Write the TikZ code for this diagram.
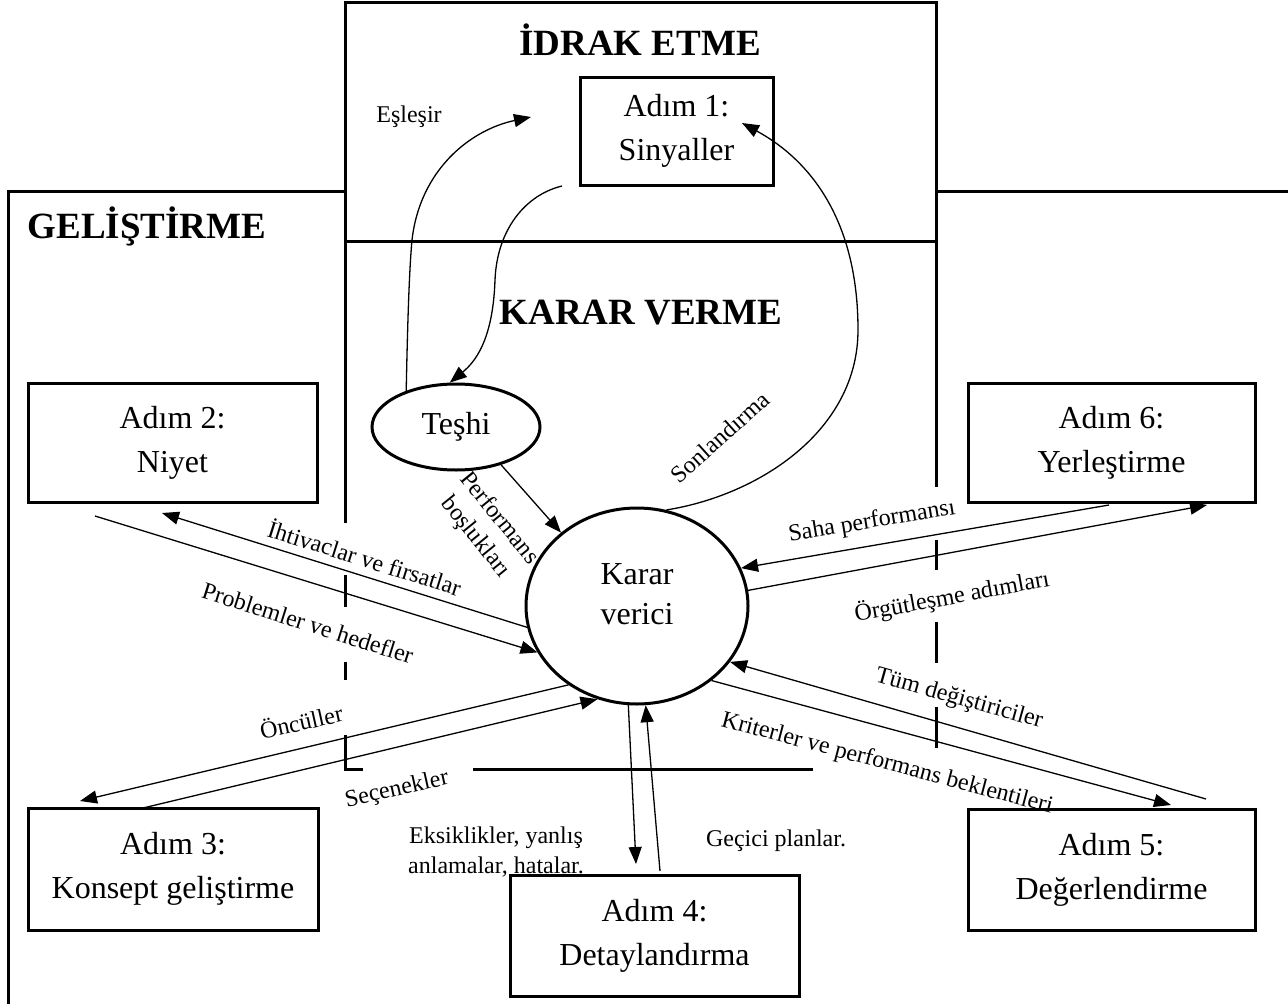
\documentclass[tikz,border=0pt]{standalone}
\usepackage{fontspec}
\setmainfont{Liberation Serif}
\usetikzlibrary{arrows.meta,shapes.geometric}
\begin{document}
\begin{tikzpicture}[x=1pt,y=-1pt,
  frameline/.style={line width=3pt},
  stepbox/.style={draw,line width=3pt,inner sep=0pt,align=center,font=\fontsize{32}{44}\selectfont},
  oval/.style={draw,ellipse,line width=3pt,inner sep=0pt},
  bigtext/.style={inner sep=0pt,align=center,font=\fontsize{32}{40}\selectfont},
  titletext/.style={inner sep=0pt,font=\fontsize{37}{44}\selectfont\bfseries},
  lab/.style={inner sep=0pt,align=center,font=\fontsize{24}{30}\selectfont},
  conn/.style={line width=1.3pt,-{Triangle[length=17pt,width=13pt]}}
]
\useasboundingbox (0,0) rectangle (1288,1004);

% frames
\draw[frameline] (345,2) rectangle (936,241);
\draw[frameline] (8,1004) -- (8,191) -- (345,191);
\draw[frameline] (936,191) -- (1288,191);
% KARAR VERME region (broken lines)
\draw[frameline] (345,241) -- (345,523);
\draw[frameline] (345,575) -- (345,607);
\draw[frameline] (345,662) -- (345,680);
\draw[frameline] (345,735) -- (345,769) -- (363,769);
\draw[frameline] (473,769) -- (813,769);
\draw[frameline] (936,241) -- (936,487);
\draw[frameline] (936,540) -- (936,570);
\draw[frameline] (936,622) -- (936,663);
\draw[frameline] (936,707) -- (936,748);

% titles
\node[titletext] (tidrak) at (640,40) {İDRAK ETME};
\node[titletext] (tgel) at (147,226) {GELİŞTİRME};
\node[titletext] (tkarar) at (641,313) {KARAR VERME};

% step boxes
\node[stepbox,minimum width=193pt,minimum height=108pt] (a1) at (676.5,131) {Adım 1:\\Sinyaller};
\node[stepbox,minimum width=289pt,minimum height=119pt] (a2) at (172.5,442.5) {Adım 2:\\Niyet};
\node[stepbox,minimum width=287pt,minimum height=119pt] (a6) at (1111.5,442.5) {Adım 6:\\Yerleştirme};
\node[stepbox,minimum width=290pt,minimum height=122pt] (a3) at (173,869) {Adım 3:\\Konsept geliştirme};
\node[stepbox,minimum width=287pt,minimum height=121pt] (a5) at (1111.5,869.5) {Adım 5:\\Değerlendirme};
\node[stepbox,minimum width=289pt,minimum height=121pt] (a4) at (654.5,935.5) {Adım 4:\\Detaylandırma};

% ovals
\node[oval,minimum width=168pt,minimum height=86pt,font=\fontsize{32}{40}\selectfont] (teshi) at (456,427) {Teşhi};
\node[oval,minimum width=222pt,minimum height=196pt] (kv) at (637,606) {};
\node[bigtext] (kvtext) at (637,594) {Karar\\verici};

% free ends
\coordinate (match) at (531,117);
\coordinate (sigout) at (562,186);
\coordinate (sigin) at (742,123);
\coordinate (a2in) at (162,513);
\coordinate (a2out) at (95,516);
\coordinate (a3in) at (80,801);
\coordinate (a3out) at (143,808);
\coordinate (a4in) at (636,864);
\coordinate (a4out) at (660,871);
\coordinate (a6in) at (1207,505);
\coordinate (a6out) at (1109,505);
\coordinate (a5in) at (1171,805);
\coordinate (a5out) at (1206,799);

% curved connectors
\draw[conn] (teshi.144) .. controls (408,300) and (410,262) .. (412,240)
  .. controls (420,170) and (470,130) .. (match);
\draw[conn] (sigout) .. controls (525,195) and (497,230) .. (495,280)
  .. controls (493,340) and (475,362) .. (teshi.98);
\draw[conn] (kv.73) .. controls (760,495) and (858,430) .. (858,330)
  .. controls (858,220) and (810,160) .. (sigin);
\draw[conn] (teshi.-40) -- (kv.136.5);

% straight connectors
\draw[conn] (kv.191.5) -- (a2in);
\draw[conn] (a2out) -- (kv.205.2);
\draw[conn] (kv.229.8) -- (a3in);
\draw[conn] (a3out) -- (kv.247.4);
\draw[conn] (kv.265) -- (a4in);
\draw[conn] (a4out) -- (kv.275);
\draw[conn] (a6out) -- (kv.20.3);
\draw[conn] (kv.8.7) -- (a6in);
\draw[conn] (a5out) -- (kv.-31.6);
\draw[conn] (kv.-45.7) -- (a5in);

% labels
\node[lab] (leslesir) at (409,117) {Eşleşir};
\node[lab,rotate=42] (lson) at (720,437) {Sonlandırma};
\node[lab,rotate=-51] (lperf) at (487,528) {Performans\\boşlukları};
\node[lab,rotate=-17.5] (lihtiv) at (365,557) {İhtivaclar ve firsatlar};
\node[lab,rotate=-17.6] (lprob) at (308,623) {Problemler ve hedefler};
\node[lab,rotate=12.6] (lonc) at (301,721) {Öncüller};
\node[lab,rotate=12.6] (lsec) at (397,790) {Seçenekler};
\node[lab] (leks) at (496,852) {Eksiklikler, yanlış\\anlamalar, hatalar.};
\node[lab] (lgec) at (776,841) {Geçici planlar.};
\node[lab,rotate=9.5] (lsaha) at (872,522) {Saha performansı};
\node[lab,rotate=10.4] (lorg) at (952,597) {Örgütleşme adımları};
\node[lab,rotate=-15.7] (ltum) at (959,699) {Tüm değiştiriciler};
\node[lab,rotate=-14.8] (lkrit) at (887,764) {Kriterler ve performans beklentileri};
\end{tikzpicture}
\end{document}
